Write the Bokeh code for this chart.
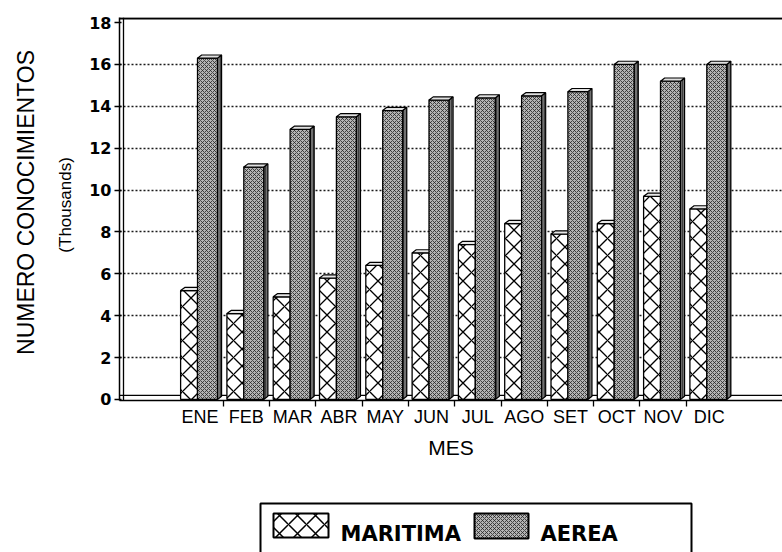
import math
from bokeh.plotting import figure
from bokeh.layouts import column, row
from bokeh.models import Range1d, FixedTicker, Span
from bokeh.core.properties import value
from bokeh.embed import file_html
from bokeh.resources import INLINE

# ---------------- data ----------------
meses = ["ENE", "FEB", "MAR", "ABR", "MAY", "JUN", "JUL", "AGO", "SET", "OCT", "NOV", "DIC"]
maritima = [5.2, 4.1, 4.9, 5.8, 6.4, 7.0, 7.4, 8.4, 7.9, 8.4, 9.7, 9.1]
aerea = [16.3, 11.1, 12.9, 13.5, 13.8, 14.3, 14.4, 14.5, 14.7, 16.0, 15.2, 16.0]
y_ticks = [0, 2, 4, 6, 8, 10, 12, 14, 16, 18]
series_names = ["MARITIMA", "AEREA"]
y_title = "NUMERO CONOCIMIENTOS"
y_subtitle = "(Thousands)"
x_title = "MES"

# ---------------- layout constants ----------------
W = 782
LEFT_W = 80
MAIN_H = 470
BOT_H = 82

X0, X1 = -1.74, 12.58
Y0, Y1 = -0.05, 18.24

MAR_L, MAR_R = -0.42, -0.055
AER_L, AER_R = -0.055, 0.375
DX = 0.09
DY = 0.15

x = list(range(len(meses)))

main = figure(width=W - LEFT_W, height=MAIN_H, output_backend="svg", toolbar_location=None,
              x_range=Range1d(X0, X1), y_range=Range1d(Y0, Y1),
              min_border_left=39, min_border_right=0, min_border_top=17, min_border_bottom=70)
main.outline_line_color = None
main.background_fill_color = "white"
main.border_fill_color = "white"

# grid
main.xgrid.visible = False
main.ygrid.ticker = FixedTicker(ticks=y_ticks[1:-1])
main.ygrid.grid_line_color = "#1a1a1a"
main.ygrid.grid_line_dash = "2 2"
main.ygrid.grid_line_width = 1.6

# 3D wall / floor / top lines
main.add_layout(Span(location=X0 + 4 / 46.3, dimension="height", line_color="black",
                     line_width=1.3, level="underlay"))
main.add_layout(Span(location=0.19, dimension="width", line_color="black",
                     line_width=1.3, level="underlay"))
main.add_layout(Span(location=18.2, dimension="width", line_color="black", line_width=2.2))

# ---- maritima bars ----
mx = [i + (MAR_L + MAR_R) / 2 for i in x]
main.patches(xs=[[i + MAR_R, i + MAR_R + DX, i + MAR_R + DX, i + MAR_R] for i in x],
             ys=[[0, DY, v + DY, v] for v in maritima],
             fill_color="#d8d8d8", line_color="black", line_width=1.2)
main.vbar(x=mx, width=MAR_R - MAR_L, top=maritima, bottom=0,
          fill_color="white", line_color="black", line_width=1.3,
          hatch_pattern="x", hatch_scale=17, hatch_color="black", hatch_weight=1.3)
main.patches(xs=[[i + MAR_L, i + MAR_R, i + MAR_R + DX, i + MAR_L + DX] for i in x],
             ys=[[v, v, v + DY, v + DY] for v in maritima],
             fill_color="#e6e6e6", line_color="black", line_width=1.2)

# ---- aerea bars ----
ax = [i + (AER_L + AER_R) / 2 for i in x]
main.patches(xs=[[i + AER_R, i + AER_R + DX, i + AER_R + DX, i + AER_R] for i in x],
             ys=[[0, DY, v + DY, v] for v in aerea],
             fill_color="#707070", line_color="black", line_width=1.2,
             hatch_pattern="vertical_line", hatch_scale=3, hatch_color="#2a2a2a", hatch_weight=0.7)
main.vbar(x=ax, width=AER_R - AER_L, top=aerea, bottom=0,
          fill_color="#b4b4b4", line_color="black", line_width=1.3,
          hatch_pattern="x", hatch_scale=4, hatch_color="#262626", hatch_weight=0.8)
main.patches(xs=[[i + AER_L, i + AER_R, i + AER_R + DX, i + AER_L + DX] for i in x],
             ys=[[v, v, v + DY, v + DY] for v in aerea],
             fill_color="#e0e0e0", line_color="black", line_width=1.2)

# y axis
yax = main.yaxis[0]
yax.ticker = FixedTicker(ticks=y_ticks)
yax.major_label_text_font = "DejaVu Sans"
yax.major_label_text_font_style = "bold"
yax.major_label_text_font_size = "16px"
yax.major_label_text_color = "black"
yax.major_tick_out = 5
yax.major_tick_in = 2
yax.minor_tick_line_color = None
yax.major_tick_line_width = 1.3
yax.axis_line_width = 1.5
yax.major_label_standoff = 3

# x axis
xax = main.xaxis[0]
xax.ticker = FixedTicker(ticks=x, minor_ticks=[i + 0.5 for i in x[:-1]])
xax.major_label_overrides = {i: m for i, m in zip(x, meses)}
xax.major_tick_line_color = None
xax.minor_tick_out = 6
xax.minor_tick_in = 0
xax.minor_tick_line_color = "black"
xax.minor_tick_line_width = 1.3
xax.axis_line_width = 1.5
xax.major_label_text_font = "Liberation Sans"
xax.major_label_text_font_size = "18px"
xax.major_label_text_color = "black"
xax.major_label_standoff = 0
xax.axis_label = x_title
xax.axis_label_text_font = "Liberation Sans"
xax.axis_label_text_font_style = "normal"
xax.axis_label_text_font_size = "21px"
xax.axis_label_text_color = "black"
xax.axis_label_standoff = 6

# ---------------- left label panel ----------------
left = figure(width=LEFT_W, height=MAIN_H, output_backend="svg", toolbar_location=None,
              x_range=Range1d(0, LEFT_W), y_range=Range1d(MAIN_H, 0),
              x_axis_location=None, y_axis_location=None,
              min_border=0, min_border_left=0, min_border_right=0,
              min_border_top=0, min_border_bottom=0)
left.outline_line_color = None
left.grid.visible = False
left.text(x=[25], y=[227], text=[y_title], angle=math.pi / 2,
          text_align="center", text_baseline="middle",
          text_font=value("Liberation Sans"), text_font_size="23px", text_color="black")
left.text(x=[65], y=[230], text=[y_subtitle], angle=math.pi / 2,
          text_align="center", text_baseline="middle",
          text_font=value("Liberation Sans"), text_font_size="17px", text_color="black")

# ---------------- legend panel ----------------
bot = figure(width=W, height=BOT_H, output_backend="svg", toolbar_location=None,
             x_range=Range1d(0, W), y_range=Range1d(BOT_H, 0),
             x_axis_location=None, y_axis_location=None,
             min_border=0, min_border_left=0, min_border_right=0,
             min_border_top=0, min_border_bottom=0)
bot.outline_line_color = None
bot.grid.visible = False
bot.quad(left=[260], right=[691], top=[33], bottom=[140], fill_color=None,
         line_color="black", line_width=2)
bot.quad(left=[273], right=[328], top=[43], bottom=[67], fill_color="white",
         line_color="black", line_width=2,
         hatch_pattern="x", hatch_scale=18, hatch_color="black", hatch_weight=1.5)
bot.quad(left=[474], right=[528], top=[43], bottom=[68], fill_color="#b4b4b4",
         line_color="black", line_width=2,
         hatch_pattern="x", hatch_scale=4, hatch_color="#262626", hatch_weight=0.8)
bot.text(x=[340, 540], y=[63, 63], text=series_names,
         text_align="left", text_baseline="alphabetic",
         text_font=value("DejaVu Sans"), text_font_style="bold",
         text_font_size="21px", text_color="black")

layout = column(row(left, main, spacing=0), bot, spacing=0)
open("out.html", "w").write(file_html(layout, INLINE))
